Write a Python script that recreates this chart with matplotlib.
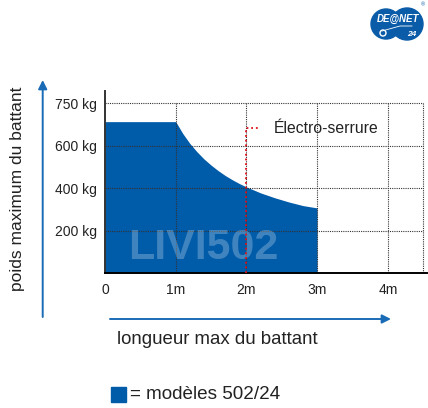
import matplotlib
matplotlib.use("Agg")
import matplotlib.pyplot as plt
from matplotlib.patches import Circle, Rectangle

plt.rcParams['font.family'] = ['Liberation Sans', 'DejaVu Sans']

# courbe poids max / longueur
longueur = [0, 0.5, 1.0, 1.1, 1.2, 1.3, 1.4, 1.5, 1.6, 1.7, 1.8, 1.9,
            2.0, 2.2, 2.4, 2.6, 2.8, 3.0]
poids = [714, 714, 714, 658, 611, 572, 538, 509, 483, 460, 440, 422,
         406, 378, 355, 335, 318, 307]

# echelle : les reperes sont equidistants, le dernier est marque 750 kg
yticks = [200, 400, 600, 800]
ylabels = ["200 kg", "400 kg", "600 kg", "750 kg"]
xticks = [0, 1, 2, 3, 4]
xlabels = ["0", "1m", "2m", "3m", "4m"]
xgrid = [1, 2, 3, 4, 4.5]

serrure_x = [2, 2, 2.18]
serrure_y = [0, 684, 684]

blue = "#005ba9"
text_col = "#222222"

fig = plt.figure(figsize=(4.28, 4.08), dpi=100)
ax = fig.add_axes([105 / 428, 135 / 408, 321.7 / 428, 182.3 / 408])
ax.set_xlim(0, 4.55)
ax.set_ylim(0, 860)

ax.fill_between(longueur, poids, 0, color=blue, lw=0, zorder=1)

# grille pointillee limitee a 0..800
dots = (0, (1, 1))
ax.vlines(xgrid, 0, 800, colors="#333333", linestyles=[dots], lw=0.8, zorder=2)
ax.hlines(yticks, 0, 4.5, colors="#333333", linestyles=[dots], lw=0.8, zorder=2)

ax.text(1.39, 116, "LIVI502", color="white", alpha=0.25, fontsize=31,
        fontweight="bold", ha="center", va="center", zorder=3)

ax.plot(serrure_x, serrure_y, color="#e0101a", lw=1.3, ls=(0, (1, 1.6)), zorder=4)
ax.text(2.38, 684, "Électro-serrure", color=text_col, fontsize=11.3,
        ha="left", va="center", zorder=4)

for s in ["top", "right"]:
    ax.spines[s].set_visible(False)
ax.spines["left"].set_color("#333333")
ax.spines["bottom"].set_color("black")
ax.spines["left"].set_linewidth(1.4)
ax.spines["bottom"].set_linewidth(1.4)

ax.set_yticks(yticks)
ax.set_yticklabels(ylabels)
ax.set_xticks(xticks)
ax.set_xticklabels(xlabels)
ax.tick_params(axis="both", length=0, labelsize=10, colors=text_col)
ax.tick_params(axis="y", pad=6)
ax.tick_params(axis="x", pad=7)

# fleches des axes
arrow = dict(arrowstyle="-|>", color="#1a6bb5", lw=1.4, mutation_scale=13,
             shrinkA=0, shrinkB=0)
fig.add_artist(plt.Annotation("", xy=(42.7 / 428, 328 / 408), xytext=(42.7 / 428, 91 / 408),
                              xycoords="figure fraction", arrowprops=arrow))
fig.add_artist(plt.Annotation("", xy=(391 / 428, 89 / 408), xytext=(110 / 428, 89 / 408),
                              xycoords="figure fraction", arrowprops=arrow))

fig.text(17.5 / 428, 219.5 / 408, "poids maximum du battant", rotation=90,
         fontsize=12.5, color=text_col, ha="center", va="center")
fig.text(217.5 / 428, 69 / 408, "longueur max du battant",
         fontsize=13.4, color=text_col, ha="center", va="center")

# legende
fig.add_artist(Rectangle((111 / 428, 6 / 408), 15 / 428, 15 / 408,
                         transform=fig.transFigure, color=blue))
fig.text(130 / 428, 13.5 / 408, "= modèles 502/24", fontsize=13.6,
         color=text_col, ha="left", va="center")

# logo
lg = fig.add_axes([366 / 428, 360 / 408, 62 / 428, 48 / 408])
lg.set_xlim(366, 428)
lg.set_ylim(48, 0)
lg.set_aspect("equal")
lg.axis("off")
lg.add_patch(Circle((386, 24), 15, color="#0a5ba8"))
lg.add_patch(Circle((407, 24), 16, color="#0a5ba8"))
lg.plot([382, 400, 412], [31, 26, 26], color="white", lw=0.6)
lg.add_patch(Circle((383, 33), 3, fc="none", ec="white", lw=1))
lg.text(398, 19, "DE@NET", color="white", fontsize=7, fontweight="bold",
        style="italic", ha="center", va="center")
lg.text(412, 34, "24", color="white", fontsize=6, fontweight="bold",
        style="italic", ha="center", va="center")
lg.text(423, 5, "®", color="#0a5ba8", fontsize=4, ha="center", va="center")

fig.savefig("out.png", dpi=100)
